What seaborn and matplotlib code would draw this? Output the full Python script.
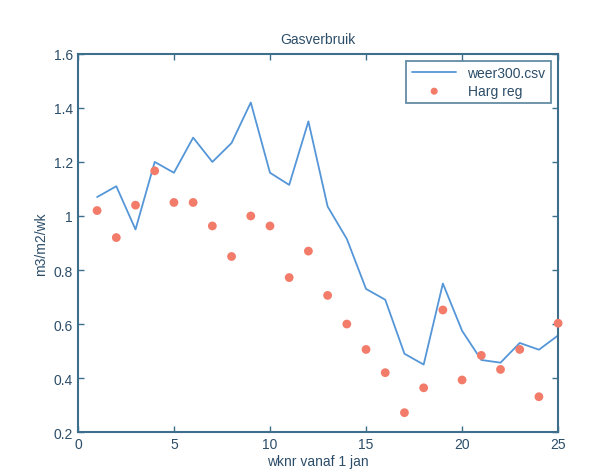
import pandas as pd
import seaborn as sns
import matplotlib
matplotlib.use('Agg')
import matplotlib.pyplot as plt

# data
weeks = list(range(1, 26))
gas_line = [1.07, 1.11, 0.95, 1.20, 1.16, 1.29, 1.20, 1.27, 1.42, 1.16,
            1.115, 1.35, 1.035, 0.915, 0.73, 0.69, 0.49, 0.45, 0.75, 0.575,
            0.467, 0.457, 0.53, 0.505, 0.558]
gas_reg = [1.02, 0.92, 1.04, 1.167, 1.05, 1.05, 0.963, 0.85, 1.0, 0.963,
           0.772, 0.87, 0.706, 0.60, 0.506, 0.42, 0.272, 0.364, 0.652, 0.393,
           0.484, 0.432, 0.506, 0.331, 0.603]

df = pd.DataFrame({'week': weeks, 'line': gas_line, 'reg': gas_reg})

axis_col = '#3d6f8c'
text_col = '#2c4d68'
sns.set_theme(style='white')
plt.rcParams['font.family'] = ['Liberation Sans', 'DejaVu Sans']
plt.rcParams['axes.edgecolor'] = axis_col
plt.rcParams['text.color'] = text_col
plt.rcParams['xtick.color'] = axis_col
plt.rcParams['ytick.color'] = axis_col
plt.rcParams['xtick.labelcolor'] = text_col
plt.rcParams['ytick.labelcolor'] = text_col
plt.rcParams['axes.labelcolor'] = text_col

fig = plt.figure(figsize=(5.9, 4.77), dpi=100)
ax = fig.add_axes([0.132, 0.092, 0.814, 0.793])

sns.lineplot(data=df, x='week', y='line', ax=ax, color='#5596d8', linewidth=1.3,
             label='weer300.csv')
sns.scatterplot(data=df, x='week', y='reg', ax=ax, color='#f27b6a', s=40,
                edgecolor='none', label='Harg reg', clip_on=False, zorder=3)

ax.set_xlim(0, 25)
ax.set_ylim(0.2, 1.6)
ax.set_xticks([0, 5, 10, 15, 20, 25])
ax.set_yticks([0.2, 0.4, 0.6, 0.8, 1.0, 1.2, 1.4, 1.6])
ax.set_yticklabels(['0.2', '0.4', '0.6', '0.8', '1', '1.2', '1.4', '1.6'])
ax.tick_params(direction='in', length=4, top=True, right=True, labelsize=10, width=1,
               bottom=True, left=True)
for sp in ax.spines.values():
    sp.set_linewidth(1.5)
    sp.set_color(axis_col)

ax.set_title('Gasverbruik', fontsize=10, pad=8)
ax.set_xlabel('wknr vanaf 1 jan', fontsize=10, labelpad=2)
ax.set_ylabel('m3/m2/wk', fontsize=10, labelpad=4)

leg = ax.legend(loc='upper right', fontsize=10, frameon=True, fancybox=False,
                borderaxespad=0.5, handlelength=3.2, labelspacing=0.25,
                markerscale=0.8)
leg.get_frame().set_edgecolor(axis_col)
leg.get_frame().set_linewidth(1.3)

plt.savefig('out.png', dpi=100)
plt.close('all')
